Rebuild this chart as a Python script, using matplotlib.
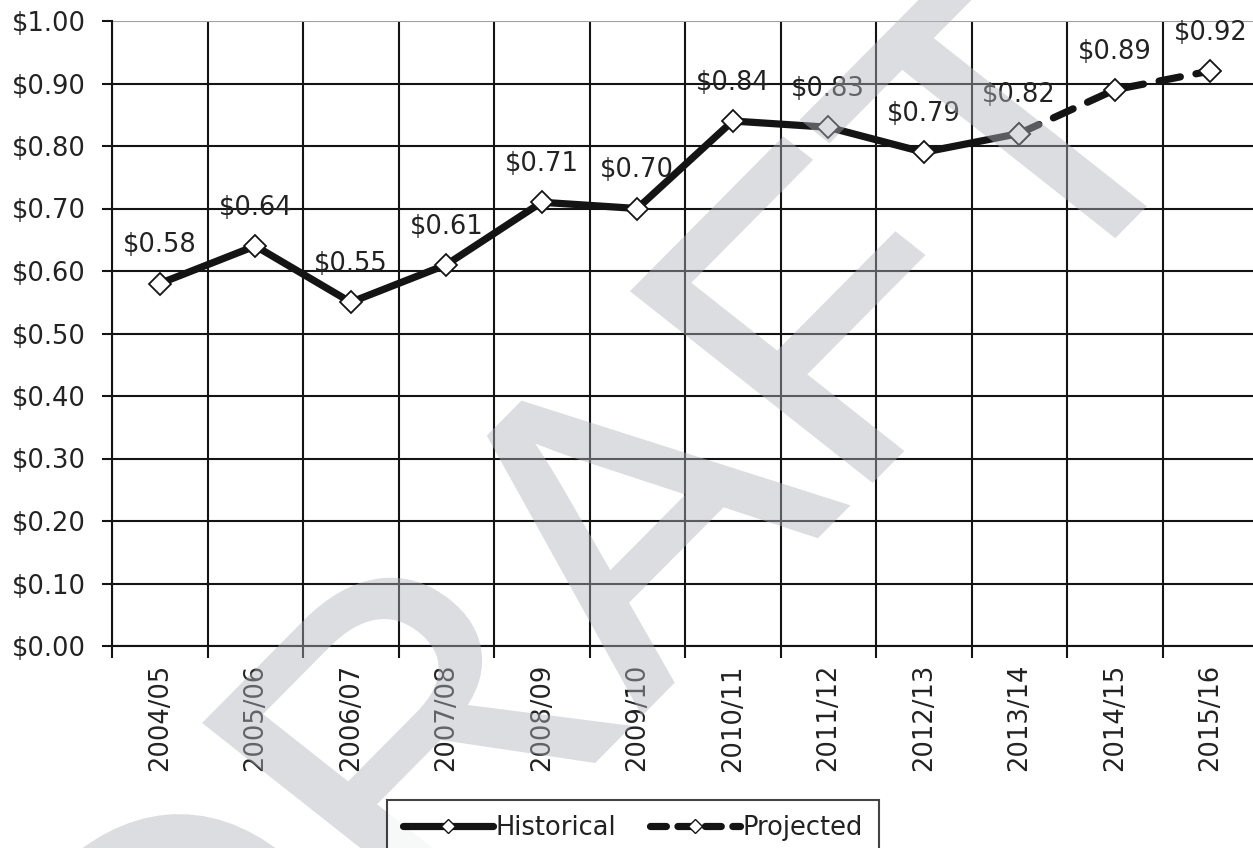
import matplotlib
matplotlib.use("Agg")
import matplotlib.pyplot as plt
import numpy as np
from matplotlib.textpath import TextPath
from matplotlib.patches import PathPatch
from matplotlib.path import Path
from matplotlib.font_manager import FontProperties
from matplotlib.transforms import Affine2D, IdentityTransform
from matplotlib.lines import Line2D
from matplotlib.ticker import FixedLocator, FuncFormatter

# ---- data -------------------------------------------------------------
years = ["2004/05", "2005/06", "2006/07", "2007/08", "2008/09", "2009/10",
         "2010/11", "2011/12", "2012/13", "2013/14", "2014/15", "2015/16"]
historical = [0.58, 0.64, 0.55, 0.61, 0.71, 0.70, 0.84, 0.83, 0.79, 0.82]
projected = [0.82, 0.89, 0.92]          # starts at the last historical year
y_ticks = [0.0, 0.1, 0.2, 0.3, 0.4, 0.5, 0.6, 0.7, 0.8, 0.9, 1.0]

plt.rcParams["font.family"] = ["DejaVu Sans"]

W, H = 1253, 848
fig = plt.figure(figsize=(W / 100, H / 100), dpi=100)
fig.patch.set_facecolor("white")
ax = fig.add_axes([112 / W, 202 / H, 1146 / W, 625 / H])

INK = "#141414"
TXT = "#222222"
FS = 18.5

x_hist = np.arange(len(historical))
x_proj = np.arange(len(historical) - 1, len(historical) - 1 + len(projected))

ax.plot(x_hist, historical, color=INK, lw=5.2, solid_joinstyle="round",
        solid_capstyle="round", marker="D", ms=11.5, mfc="white", mec=INK,
        mew=1.3, zorder=4)
ax.plot(x_proj, projected, color=INK, lw=5.2, linestyle=(0, (3.0, 2.2)),
        dash_capstyle="round", marker="D", ms=11.5, mfc="white", mec=INK,
        mew=1.3, zorder=4)

# value labels
values = historical + projected[1:]
for i, v in enumerate(values):
    ax.annotate(f"${v:.2f}", (i, v), xytext=(0, 27.5), textcoords="offset points",
                ha="center", va="center", fontsize=FS, color=TXT, zorder=5)

# axes, ticks and grid
ax.set_xlim(-0.5, len(years) - 0.5)
ax.set_ylim(0, 1.0)
ax.set_yticks(y_ticks)
ax.yaxis.set_major_formatter(FuncFormatter(lambda v, p: f"${v:.2f}"))
ax.set_xticks(np.arange(len(years)))
ax.set_xticklabels(years, rotation=90)
ax.xaxis.set_minor_locator(FixedLocator(np.arange(-0.5, len(years), 1.0)))

ax.tick_params(axis="y", which="major", direction="out", length=7, width=1.5,
               color=INK, labelsize=FS, labelcolor=TXT, pad=12)
ax.tick_params(axis="x", which="major", length=0, labelsize=FS,
               labelcolor=TXT, pad=13)
ax.tick_params(axis="x", which="minor", direction="out", length=8.5,
               width=1.5, color=INK)

ax.set_axisbelow(True)
ax.yaxis.grid(True, which="major", color=INK, lw=1.5)
ax.xaxis.grid(True, which="minor", color=INK, lw=1.5)
ax.xaxis.grid(False, which="major")
ax.get_ygridlines()[-1].set_color("#a0a0a0")

for side in ("top", "right"):
    ax.spines[side].set_visible(False)
for side in ("left", "bottom"):
    ax.spines[side].set_color(INK)
    ax.spines[side].set_linewidth(1.5)

# legend
h_hist = Line2D([], [], color=INK, lw=5.2, marker="D", ms=7, mfc="white",
                mec=INK, mew=1.0, solid_capstyle="round")
h_proj = Line2D([], [], color=INK, lw=5.2, linestyle=(0, (2.2, 1.6)),
                dash_capstyle="round", marker="D", ms=7, mfc="white",
                mec=INK, mew=1.0)
leg = fig.legend([h_hist, h_proj], ["Historical", "Projected"],
                 loc="upper center", bbox_to_anchor=(633 / W, 1 - 800 / H),
                 ncol=2, frameon=True, fancybox=False, edgecolor=INK,
                 fontsize=FS, handlelength=3.5, handletextpad=0.12,
                 columnspacing=1.3, borderpad=0.6, borderaxespad=0)
leg.get_frame().set_linewidth(1.5)
leg.set_zorder(11)
for t in leg.get_texts():
    t.set_color(TXT)

# "DRAFT" watermark, slanted across the plot
fp = FontProperties(family="Liberation Sans")
tp = TextPath((0, 0), "DRAFT", size=1, prop=fp)
tp_dra = TextPath((0, 0), "DRA", size=1, prop=fp)
tp_draf = TextPath((0, 0), "DRAF", size=1, prop=fp)
n0 = len(tp_dra.vertices)
fv = tp_draf.vertices[n0:]
fc = tp_draf.codes[n0:]
fv = fv[fc != Path.CLOSEPOLY]
anchor_x, anchor_y = fv[:, 0].min(), fv[:, 1].max()   # top-left corner of F

EM = 415
tr = (Affine2D().translate(-anchor_x, -anchor_y).scale(EM).rotate_deg(48.5)
      .scale(1.12, 1.0).translate(633, H - 291))


def fade(img, dpi):
    # translucent as a whole, so the thickened outline does not double up
    out = img.copy()
    out[..., 3] *= 0.45
    return out, 0, 0


wm = PathPatch(tr.transform_path(tp), facecolor="#b0b4ba", edgecolor="#b0b4ba",
               lw=3.0, joinstyle="miter", transform=IdentityTransform(),
               zorder=10)
wm.set_agg_filter(fade)
fig.add_artist(wm)

fig.savefig("out.png", dpi=100)
